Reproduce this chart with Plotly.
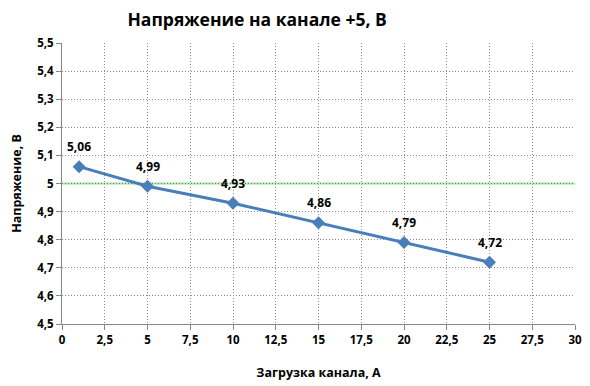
import plotly.graph_objects as go

load_a = [1, 5, 10, 15, 20, 25]
voltage = [5.06, 4.99, 4.93, 4.86, 4.79, 4.72]
labels = ["5,06", "4,99", "4,93", "4,86", "4,79", "4,72"]
x_ticks = [0, 2.5, 5, 7.5, 10, 12.5, 15, 17.5, 20, 22.5, 25, 27.5, 30]
x_tick_text = ["0", "2,5", "5", "7,5", "10", "12,5", "15", "17,5", "20", "22,5", "25", "27,5", "30"]
y_ticks = [4.5, 4.6, 4.7, 4.8, 4.9, 5.0, 5.1, 5.2, 5.3, 5.4, 5.5]
y_tick_text = ["4,5", "4,6", "4,7", "4,8", "4,9", "5", "5,1", "5,2", "5,3", "5,4", "5,5"]
nominal_x = [0, 30]
nominal_y = [5.0, 5.0]

font = "Open Sans"
fig = go.Figure()
fig.add_trace(go.Scatter(
    x=nominal_x, y=nominal_y, mode="lines",
    line=dict(color="#bfe6bf", width=2.5), hoverinfo="skip", showlegend=False,
))
fig.add_trace(go.Scatter(
    x=nominal_x, y=nominal_y, mode="lines",
    line=dict(color="#3aa63a", width=1.2, dash="1px,2px"), hoverinfo="skip", showlegend=False,
))
fig.add_trace(go.Scatter(
    x=load_a, y=voltage, mode="lines+markers",
    line=dict(color="#4a7ebb", width=3),
    marker=dict(symbol="diamond", size=10, color="#4a7ebb"),
    cliponaxis=False, showlegend=False,
))
for xv, yv, t in zip(load_a, voltage, labels):
    fig.add_annotation(x=xv, y=yv, text=t, showarrow=False, yshift=20,
                       font=dict(family=font, size=12, color="#000000", weight="bold"))

axis_common = dict(
    showgrid=True, gridcolor="#8c8c8c", griddash="1px,2px", gridwidth=1,
    showline=True, linecolor="#868686", linewidth=1,
    ticks="outside", ticklen=5, tickcolor="#868686",
    tickfont=dict(family=font, size=11.5, color="#000000", weight="bold"),
    zeroline=False, automargin=False,
)
fig.update_layout(
    width=582, height=378,
    margin=dict(l=54, r=15, t=35, b=62),
    paper_bgcolor="white", plot_bgcolor="white",
    title=dict(text="Напряжение на канале +5, В", x=0.428, xanchor="center", y=0.985, yanchor="top",
               font=dict(family=font, size=17.5, color="#000000", weight="bold"),
               automargin=False),
    xaxis=dict(range=[0, 30], tickvals=x_ticks, ticktext=x_tick_text,
               title=dict(text="Загрузка канала, А", standoff=22,
                          font=dict(family=font, size=12.5, color="#000000", weight="bold")),
               **axis_common),
    yaxis=dict(range=[4.5, 5.5], tickvals=y_ticks, ticktext=y_tick_text,
               title=dict(text="Напряжение, В", standoff=16,
                          font=dict(family=font, size=12.5, color="#000000", weight="bold")),
               **axis_common),
)
fig.write_html("out.html")
